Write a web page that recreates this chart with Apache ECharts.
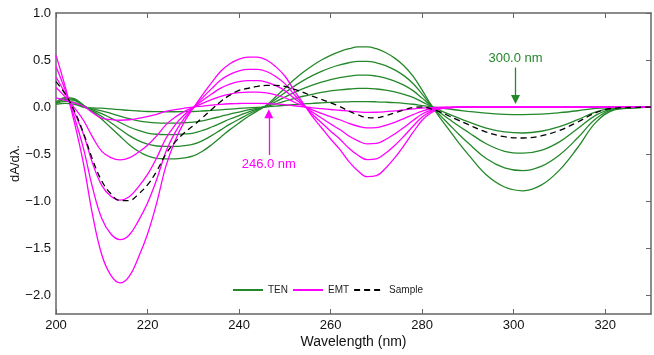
<!DOCTYPE html>
<html>
<head>
<meta charset="utf-8">
<script src="https://cdn.jsdelivr.net/npm/echarts@6/dist/echarts.min.js"></script>
<style>html,body{margin:0;padding:0;background:#fff}#chart{width:654px;height:355px}</style>
</head>
<body>
<div id="chart"></div>
<script>
// wavelength grid (nm)
var wavelength = [200,202,204,206,208,210,212,214,216,218,220,222,224,226,228,230,232,234,236,238,
  240,242,244,246,248,250,252,254,256,258,260,262,264,266,268,270,272,274,276,278,
  280,282,284,286,288,290,294,298,302,306,310,314,318,322,326,330];

// TEN curves (green)
var ten1 = [0.03,0.04,0.03,0.00,-0.01,-0.012,-0.02,-0.028,-0.036,-0.042,-0.047,-0.049,-0.05,-0.05,-0.049,
  -0.047,-0.042,-0.036,-0.029,-0.022,-0.015,-0.009,-0.004,0.002,0.01,0.018,0.026,0.033,0.04,0.045,
  0.05,0.053,0.056,0.058,0.058,0.056,0.052,0.047,0.04,0.03,0.016,0.002,-0.011,-0.023,-0.034,
  -0.045,-0.065,-0.077,-0.08,-0.075,-0.06,-0.039,-0.014,-0.003,-0.001,0];
var ten2 = [0.04,0.06,0.05,0.00,-0.02,-0.04,-0.068,-0.096,-0.124,-0.146,-0.161,-0.169,-0.171,-0.171,-0.167,
  -0.161,-0.146,-0.124,-0.099,-0.074,-0.053,-0.031,-0.012,0.006,0.034,0.062,0.09,0.115,0.136,0.155,
  0.171,0.183,0.192,0.198,0.198,0.192,0.18,0.161,0.136,0.102,0.056,0.006,-0.037,-0.078,-0.118,
  -0.155,-0.223,-0.264,-0.276,-0.257,-0.208,-0.133,-0.05,-0.009,-0.003,0];
var ten3 = [0.04,0.08,0.07,0.01,-0.03,-0.069,-0.117,-0.164,-0.212,-0.249,-0.276,-0.289,-0.292,-0.292,-0.286,
  -0.276,-0.249,-0.212,-0.17,-0.127,-0.09,-0.053,-0.021,0.011,0.058,0.106,0.154,0.196,0.233,0.265,
  0.292,0.313,0.329,0.339,0.339,0.329,0.307,0.276,0.233,0.175,0.095,0.011,-0.064,-0.133,-0.201,
  -0.265,-0.39,-0.47,-0.49,-0.46,-0.37,-0.228,-0.085,-0.016,-0.005,0];
var ten4 = [0.05,0.09,0.08,0.02,-0.04,-0.10,-0.167,-0.236,-0.304,-0.357,-0.395,-0.414,-0.418,-0.418,-0.41,
  -0.395,-0.357,-0.304,-0.243,-0.182,-0.129,-0.076,-0.03,0.015,0.084,0.152,0.22,0.281,0.334,0.38,
  0.418,0.448,0.471,0.486,0.486,0.471,0.441,0.395,0.334,0.251,0.137,0.015,-0.091,-0.19,-0.289,
  -0.38,-0.547,-0.646,-0.676,-0.631,-0.509,-0.327,-0.122,-0.023,-0.008,0];
var ten5 = [0.05,0.10,0.09,0.02,-0.05,-0.13,-0.22,-0.31,-0.40,-0.47,-0.52,-0.545,-0.55,-0.55,-0.54,
  -0.52,-0.47,-0.40,-0.32,-0.24,-0.17,-0.10,-0.04,0.02,0.11,0.20,0.29,0.37,0.44,0.50,
  0.55,0.59,0.62,0.64,0.64,0.62,0.58,0.52,0.44,0.33,0.18,0.02,-0.12,-0.25,-0.38,
  -0.50,-0.72,-0.85,-0.89,-0.83,-0.67,-0.43,-0.16,-0.03,-0.01,0];

// EMT curves (magenta)
var emt1 = [0.097,0.072,0.044,0.01,-0.06,-0.118,-0.134,-0.14,-0.135,-0.12,-0.10,-0.077,-0.047,-0.027,-0.012,
  0,0.01,0.02,0.029,0.035,0.038,0.04,0.04,0.038,0.032,0.025,0.014,0.003,-0.008,-0.017,
  -0.026,-0.034,-0.044,-0.051,-0.056,-0.055,-0.049,-0.04,-0.031,-0.02,-0.01,-0.005,0,0,0,
  0,0,0,0,0,0,0,0,0,0,0];
var emt2 = [0.207,0.108,-0.006,-0.14,-0.32,-0.471,-0.537,-0.561,-0.54,-0.48,-0.405,-0.306,-0.189,-0.108,-0.048,
  -0.003,0.039,0.078,0.114,0.138,0.153,0.159,0.159,0.15,0.129,0.099,0.054,0.012,-0.03,-0.066,
  -0.102,-0.135,-0.174,-0.204,-0.222,-0.219,-0.195,-0.162,-0.123,-0.081,-0.042,-0.018,-0.006,-0.003,0,
  0,0,0,0,0,0,0,0,0,0,0];
var emt3 = [0.32,0.145,-0.057,-0.29,-0.60,-0.832,-0.949,-0.99,-0.954,-0.848,-0.716,-0.54,-0.334,-0.191,-0.085,
  -0.005,0.069,0.138,0.201,0.244,0.27,0.281,0.281,0.265,0.228,0.175,0.095,0.021,-0.053,-0.117,
  -0.18,-0.239,-0.307,-0.36,-0.392,-0.387,-0.345,-0.286,-0.217,-0.143,-0.074,-0.032,-0.011,-0.005,0,
  0,0,0,0,0,0,0,0,0,0,0];
var emt4 = [0.43,0.18,-0.106,-0.44,-0.86,-1.185,-1.35,-1.41,-1.36,-1.21,-1.02,-0.77,-0.476,-0.272,-0.121,
  -0.008,0.098,0.196,0.287,0.347,0.385,0.40,0.40,0.378,0.325,0.249,0.136,0.03,-0.076,-0.166,
  -0.257,-0.34,-0.438,-0.513,-0.559,-0.551,-0.491,-0.408,-0.31,-0.204,-0.106,-0.045,-0.015,-0.008,0,
  0,0,0,0,0,0,0,0,0,0,0];
var emt5 = [0.55,0.22,-0.16,-0.60,-1.15,-1.57,-1.79,-1.87,-1.80,-1.60,-1.35,-1.02,-0.63,-0.36,-0.16,
  -0.01,0.13,0.26,0.38,0.46,0.51,0.53,0.53,0.50,0.43,0.33,0.18,0.04,-0.10,-0.22,
  -0.34,-0.45,-0.58,-0.68,-0.74,-0.73,-0.65,-0.54,-0.41,-0.27,-0.14,-0.06,-0.02,-0.01,0,
  0,0,0,0,0,0,0,0,0,0,0];

// sample (dashed)
var sample = [0.27,0.14,-0.04,-0.275,-0.56,-0.786,-0.922,-0.994,-0.994,-0.926,-0.827,-0.681,-0.50,-0.373,-0.275,
  -0.197,-0.113,-0.026,0.06,0.127,0.177,0.20,0.22,0.23,0.23,0.22,0.19,0.156,0.116,0.082,
  0.044,0.006,-0.044,-0.083,-0.111,-0.114,-0.091,-0.062,-0.03,-0.005,0.001,-0.021,-0.053,-0.098,-0.141,
  -0.185,-0.266,-0.315,-0.329,-0.307,-0.248,-0.159,-0.059,-0.011,-0.004,0];

var xTicks = [200,220,240,260,280,300,320];
var yTicks = [-2.0,-1.5,-1.0,-0.5,0.0,0.5,1.0];

var green = '#24882a';
var magenta = '#ff00ff';
var font = 'Liberation Sans, Arial, sans-serif';

function line(name, ys, color, dashed) {
  return {
    name: name,
    type: 'line',
    data: wavelength.map(function (x, i) { return [x, ys[i]]; }),
    symbol: 'none',
    smooth: 0.4,
    lineStyle: { color: color, width: 1.3, type: dashed ? [6, 4] : 'solid' },
    itemStyle: { color: color },
    emphasis: { disabled: true },
    silent: true
  };
}

var series = [];
[ten1, ten2, ten3, ten4, ten5].forEach(function (d) { series.push(line('TEN', d, green)); });
[emt1, emt2, emt3, emt4, emt5].forEach(function (d) { series.push(line('EMT', d, magenta)); });
series.push(line('Sample', sample, '#000', true));

// arrows
series[4].markLine = {
  silent: true,
  symbol: ['none', 'triangle'],
  symbolSize: 9,
  lineStyle: { color: green, width: 1.3, type: 'solid' },
  label: { show: true, position: 'start', formatter: '300.0 nm', color: green, fontSize: 13, fontFamily: font, distance: 3 },
  data: [[{ coord: [300.4, 0.42] }, { coord: [300.4, 0.08] }]]
};
series[9].markLine = {
  silent: true,
  symbol: ['none', 'triangle'],
  symbolSize: 9,
  lineStyle: { color: magenta, width: 1.3, type: 'solid' },
  label: { show: true, position: 'start', formatter: '246.0 nm', color: magenta, fontSize: 13, fontFamily: font, distance: 3 },
  data: [[{ coord: [246.5, -0.51] }, { coord: [246.5, -0.07] }]]
};

var axisColor = '#666';
function fmt(v) { return v.toFixed(1).replace('-', '\u2212'); }

var chart = echarts.init(document.getElementById('chart'));
chart.setOption({
  animation: false,
  textStyle: { fontFamily: font },
  grid: { left: 56, right: 3, top: 13, bottom: 41, outerBoundsMode: 'none', containLabel: false },
  legend: {
    data: ['TEN', 'EMT', 'Sample'],
    left: 232, top: 285,
    itemWidth: 30, itemHeight: 10, itemGap: 4, padding: 0,
    itemStyle: { opacity: 0 },
    textStyle: { fontSize: 10, color: '#222', fontFamily: font }
  },
  xAxis: [{
    type: 'value', min: 200, max: 330,
    name: 'Wavelength (nm)', nameLocation: 'middle', nameGap: 21, nameMoveOverlap: false,
    nameTextStyle: { fontSize: 14, color: '#111' },
    axisLine: { onZero: false, lineStyle: { color: axisColor, width: 1.5 } },
    axisTick: { inside: true, length: 5, customValues: xTicks, lineStyle: { color: axisColor } },
    axisLabel: { customValues: xTicks, fontSize: 13, color: '#111', margin: 5 },
    splitLine: { show: false }
  }, {
    type: 'value', min: 200, max: 330, position: 'top',
    axisLine: { onZero: false, lineStyle: { color: axisColor, width: 1.5 } },
    axisTick: { inside: true, length: 5, customValues: xTicks, lineStyle: { color: axisColor } },
    axisLabel: { show: false },
    splitLine: { show: false }
  }],
  yAxis: [{
    type: 'value', min: -2.2, max: 1.0,
    name: 'dA/d\u03bb.', nameLocation: 'middle', nameGap: 34, nameMoveOverlap: false,
    nameTextStyle: { fontSize: 13, color: '#111' },
    axisLine: { onZero: false, lineStyle: { color: axisColor, width: 1.5 } },
    axisTick: { show: false },
    axisLabel: { customValues: yTicks, fontSize: 13, color: '#111', margin: 5, formatter: fmt },
    splitLine: { show: false }
  }, {
    type: 'value', min: -2.2, max: 1.0, position: 'right',
    axisLine: { show: true, onZero: false, lineStyle: { color: axisColor, width: 1.5 } },
    axisTick: { show: true, inside: true, length: 5, customValues: yTicks, lineStyle: { color: axisColor } },
    axisLabel: { show: false },
    splitLine: { show: false }
  }],
  series: series
});
</script>
</body>
</html>
